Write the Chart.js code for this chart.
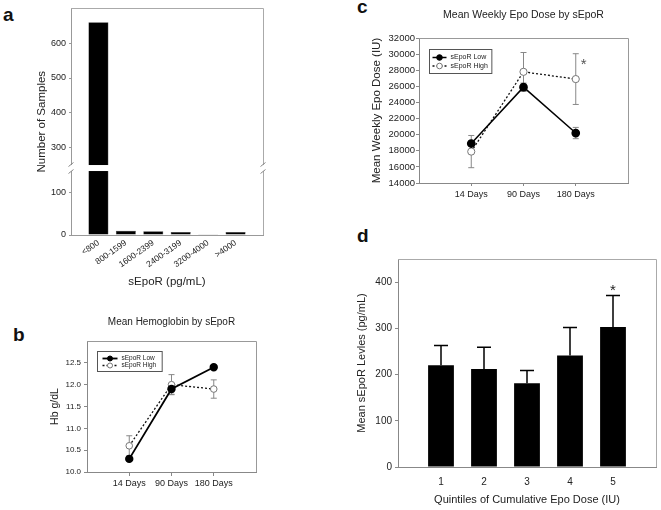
<!DOCTYPE html>
<html>
<head>
<meta charset="utf-8">
<script src="https://cdn.jsdelivr.net/npm/chart.js@4.4.0/dist/chart.umd.min.js"></script>
<style>
  body { margin: 0; background: #fff; }
  #fig { position: relative; width: 661px; height: 510px; overflow: hidden; font-family: 'Liberation Sans', Arial, sans-serif; }
  #fig canvas { position: absolute; }
  .tag { position: absolute; font-weight: bold; font-size: 19px; line-height: 19px; color: #111; }
</style>
</head>
<body>
<div id="fig">
  <div class="tag" style="left:3px;top:5px">a</div>
  <div class="tag" style="left:13px;top:325px">b</div>
  <div class="tag" style="left:357px;top:-3px">c</div>
  <div class="tag" style="left:357px;top:226px">d</div>
  <canvas id="chartA" width="275" height="295" style="left:0;top:0"></canvas>
  <canvas id="chartB" width="300" height="200" style="left:0;top:300px"></canvas>
  <canvas id="chartC" width="331" height="215" style="left:330px;top:0"></canvas>
  <canvas id="chartD" width="331" height="260" style="left:330px;top:250px"></canvas>
</div>
<script>
// panel a
const histCategories = ['<800', '800-1599', '1600-2399', '2400-3199', '3200-4000', '>4000'];
const histCounts = [660, 10, 9, 7, 2, 7];
const histTicks = [0, 100, 300, 400, 500, 600];

// panels b and c
const visitLabels = ['14 Days', '90 Days', '180 Days'];
const hbLow = [10.3, 11.9, 12.4];
const hbLowErr = [0.04, 0.12, 0.04];
const hbHigh = [10.6, 12.0, 11.9];
const hbHighErr = [0.23, 0.23, 0.21];
const hbTicks = [10.0, 10.5, 11.0, 11.5, 12.0, 12.5];

const epoLow = [18900, 25900, 20200];
const epoLowErr = [300, 500, 700];
const epoHigh = [17900, 27800, 26900];
const epoHighErr = [2000, 2400, 3150];
const epoTicks = [14000, 16000, 18000, 20000, 22000, 24000, 26000, 28000, 30000, 32000];

// panel d
const quintiles = ['1', '2', '3', '4', '5'];
const seporMeans = [220, 212, 181, 241, 303];
const seporErr = [43, 47, 28, 61, 68];
const seporTicks = [0, 100, 200, 300, 400];

const FONT = "'Liberation Sans', Arial, sans-serif";
Chart.defaults.font.family = FONT;
Chart.defaults.color = '#222';
Chart.defaults.animation = false;
Chart.defaults.responsive = false;
Chart.defaults.devicePixelRatio = 1;
Chart.defaults.plugins.legend.display = false;
Chart.defaults.plugins.tooltip.enabled = false;

const fixWidth = w => s => { s.width = w; };
const fixHeight = h => s => { s.height = h; };
const onlyTicks = vals => s => { s.ticks = vals.map(v => ({ value: v })); };
const toPoints = arr => arr.map((v, i) => ({ x: i + 1, y: v }));

// linear scale with a gap cut out of it (panel a)
class BrokenScale extends Chart.LinearScale {
  getPixelForValue(value) {
    const o = this.options.axisBreak;
    const len = this._length;
    const lowPx = (len - o.gap) * o.lowerPart;
    const highPx = len - o.gap - lowPx;
    let px;
    if (value <= o.from) px = (value - this.min) / (o.from - this.min) * lowPx;
    else if (value >= o.to) px = lowPx + o.gap + (value - o.to) / (this.max - o.to) * highPx;
    else px = lowPx + (value - o.from) / (o.to - o.from) * o.gap;
    return this.getPixelForDecimal(px / len);
  }
}
BrokenScale.id = 'broken';
Chart.register(BrokenScale);

const framePlugin = {
  id: 'frame',
  beforeDatasetsDraw(chart, args, opts) {
    const { ctx, chartArea: a } = chart;
    ctx.save();
    ctx.strokeStyle = opts.color || '#aaa';
    ctx.lineWidth = 1;
    ctx.beginPath();
    ctx.moveTo(a.left, Math.round(a.top) + 0.5);
    ctx.lineTo(Math.round(a.right) + 0.5, Math.round(a.top) + 0.5);
    ctx.lineTo(Math.round(a.right) + 0.5, a.bottom);
    ctx.stroke();
    ctx.restore();
  }
};

const breakPlugin = {
  id: 'breakMarks',
  afterDatasetsDraw(chart) {
    const { ctx, chartArea: a, scales: { y } } = chart;
    const o = y.options.axisBreak;
    const yLo = y.getPixelForValue(o.from), yHi = y.getPixelForValue(o.to);
    ctx.save();
    ctx.fillStyle = '#fff';
    ctx.fillRect(a.left - 4, yHi, a.right - a.left + 8, yLo - yHi);
    ctx.strokeStyle = '#888';
    ctx.lineWidth = 1;
    [a.left, a.right].forEach(x => {
      ctx.beginPath();
      ctx.moveTo(x - 2.5, yHi + 1.5); ctx.lineTo(x + 2.5, yHi - 2.5);
      ctx.moveTo(x - 2.5, yLo + 2.5); ctx.lineTo(x + 2.5, yLo - 1.5);
      ctx.stroke();
    });
    ctx.restore();
  }
};

function drawErrors(chart, opts) {
  const { ctx, scales: { y } } = chart;
  chart.data.datasets.forEach((ds, di) => {
    if (!ds.errors) return;
    const meta = chart.getDatasetMeta(di);
    ctx.save();
    ctx.strokeStyle = opts.color;
    ctx.lineWidth = opts.width;
    meta.data.forEach((el, i) => {
      const v = ds.data[i].y, e = ds.errors[i];
      const top = y.getPixelForValue(v + e);
      const bot = y.getPixelForValue(opts.upOnly ? v : v - e);
      ctx.beginPath();
      ctx.moveTo(el.x, top); ctx.lineTo(el.x, bot);
      ctx.moveTo(el.x - opts.cap, top); ctx.lineTo(el.x + opts.cap, top);
      if (!opts.upOnly) { ctx.moveTo(el.x - opts.cap, bot); ctx.lineTo(el.x + opts.cap, bot); }
      ctx.stroke();
    });
    ctx.restore();
  });
}
const errorBarPlugin = {
  id: 'errorBars',
  beforeDatasetsDraw(chart, args, opts) { if (opts.behind) drawErrors(chart, opts); },
  afterDatasetsDraw(chart, args, opts) { if (!opts.behind) drawErrors(chart, opts); }
};

const boxLegendPlugin = {
  id: 'boxLegend',
  afterDatasetsDraw(chart, args, o) {
    const { ctx, chartArea: a } = chart;
    const x0 = Math.round(a.left + o.dx) + 0.5, y0 = Math.round(a.top + o.dy) + 0.5;
    const sets = chart.data.datasets;
    ctx.save();
    ctx.font = o.size + 'px ' + FONT;
    const textX = x0 + o.pad + o.lineLen + o.gap;
    const w = textX - x0 + Math.max(...sets.map(d => ctx.measureText(d.label).width)) + o.pad + 1;
    ctx.fillStyle = '#fff';
    ctx.strokeStyle = '#555';
    ctx.lineWidth = 1;
    ctx.fillRect(x0, y0, w, o.height);
    ctx.strokeRect(x0, y0, w, o.height);
    sets.forEach((ds, i) => {
      const ry = y0 + o.first + i * o.row;
      const lx = x0 + o.pad;
      ctx.setLineDash(ds.borderDash || []);
      ctx.strokeStyle = ds.borderColor;
      ctx.lineWidth = ds.borderWidth;
      ctx.beginPath(); ctx.moveTo(lx, ry); ctx.lineTo(lx + o.lineLen, ry); ctx.stroke();
      ctx.setLineDash([]);
      ctx.beginPath();
      ctx.arc(lx + o.lineLen / 2, ry, o.radius, 0, Math.PI * 2);
      ctx.fillStyle = ds.pointBackgroundColor;
      ctx.fill();
      ctx.strokeStyle = ds.pointBorderColor;
      ctx.lineWidth = 1;
      ctx.stroke();
      ctx.fillStyle = '#222';
      ctx.textBaseline = 'middle';
      ctx.fillText(ds.label, textX, ry);
    });
    ctx.restore();
  }
};

// significance asterisk, placed relative to the top of an error bar
const starPlugin = {
  id: 'star',
  afterDatasetsDraw(chart, args, o) {
    const { ctx } = chart;
    const ds = chart.data.datasets[o.dataset];
    const el = chart.getDatasetMeta(o.dataset).data[o.index];
    const top = chart.scales.y.getPixelForValue(ds.data[o.index].y + ds.errors[o.index]);
    ctx.save();
    ctx.font = o.size + 'px ' + FONT;
    ctx.fillStyle = o.color;
    ctx.textAlign = 'center';
    ctx.textBaseline = 'alphabetic';
    const m = ctx.measureText('*');
    const cy = top + o.dy;
    ctx.fillText('*', el.x + o.dx, cy + (m.actualBoundingBoxAscent - m.actualBoundingBoxDescent) / 2);
    ctx.restore();
  }
};

const axisGrid = { drawOnChartArea: false, tickLength: 3, color: '#888' };
const axisBorder = { color: '#888' };

// a: histogram with broken y axis
new Chart(document.getElementById('chartA'), {
  type: 'bar',
  data: {
    datasets: [{
      data: toPoints(histCounts),
      backgroundColor: '#000',
      borderColor: '#333',
      borderWidth: 0.5,
      categoryPercentage: 1,
      barPercentage: 0.73
    }]
  },
  options: {
    layout: { padding: { left: 31, right: 12, top: 4, bottom: 0 } },
    plugins: { frame: { color: '#aaa' } },
    scales: {
      x: {
        type: 'linear', min: 0, max: histCategories.length + 1, offset: false,
        afterBuildTicks: onlyTicks(histCategories.map((_, i) => i + 1)),
        afterFit: fixHeight(60),
        grid: { drawOnChartArea: false, drawTicks: false, offset: false },
        border: { color: '#999' },
        ticks: { autoSkip: false, minRotation: 35, maxRotation: 35, padding: 3, font: { size: 8.5 }, callback: v => histCategories[v - 1] },
        title: { display: true, text: 'sEpoR (pg/mL)', font: { size: 11.5 }, padding: { top: 0, bottom: 6 } }
      },
      y: {
        type: 'broken', min: 0, max: 700,
        axisBreak: { from: 150, to: 250, gap: 6, lowerPart: 0.29 },
        afterBuildTicks: onlyTicks(histTicks),
        afterFit: fixWidth(40),
        grid: { drawOnChartArea: false, tickLength: 2, color: '#999' },
        border: { color: '#999' },
        ticks: { font: { size: 9 }, padding: 3, callback: v => String(v) },
        title: { display: true, text: 'Number of Samples', font: { size: 11.5 } }
      }
    }
  },
  plugins: [framePlugin, breakPlugin]
});

// b: mean hemoglobin
new Chart(document.getElementById('chartB'), {
  type: 'line',
  data: {
    datasets: [
      { label: 'sEpoR Low', data: toPoints(hbLow), errors: hbLowErr, borderColor: '#000', borderWidth: 1.8,
        pointRadius: 3.3, pointBackgroundColor: '#000', pointBorderColor: '#000' },
      { label: 'sEpoR High', data: toPoints(hbHigh), errors: hbHighErr, borderColor: '#111', borderWidth: 1.3, borderDash: [2, 2],
        pointRadius: 3.3, pointBackgroundColor: '#fff', pointBorderColor: '#777', pointBorderWidth: 1 }
    ]
  },
  options: {
    layout: { padding: { left: 45, right: 44, top: 0, bottom: 0 } },
    plugins: {
      title: { display: true, text: 'Mean Hemoglobin by sEpoR', fullSize: false, color: '#222',
        font: { size: 10, weight: 'normal' }, padding: { top: 16, bottom: 13 } },
      errorBars: { behind: true, color: '#888', width: 1, cap: 3 },
      boxLegend: { dx: 10, dy: 10, size: 6.5, height: 20, first: 7, row: 7, pad: 5, lineLen: 15, gap: 4, radius: 2.5 },
      frame: { color: '#999' }
    },
    scales: {
      x: {
        type: 'linear', min: 0, max: visitLabels.length + 1,
        afterBuildTicks: onlyTicks(visitLabels.map((_, i) => i + 1)),
        afterFit: fixHeight(28),
        grid: { drawOnChartArea: false, tickLength: 4, color: '#888' },
        border: axisBorder,
        ticks: { font: { size: 9 }, padding: 2, callback: v => visitLabels[v - 1] }
      },
      y: {
        min: 10, max: 13,
        afterBuildTicks: onlyTicks(hbTicks),
        afterFit: fixWidth(42),
        grid: axisGrid,
        border: axisBorder,
        ticks: { font: { size: 8 }, padding: 3, callback: v => v.toFixed(1) },
        title: { display: true, text: 'Hb g/dL', font: { size: 10.5 } }
      }
    }
  },
  plugins: [framePlugin, errorBarPlugin, boxLegendPlugin]
});

// c: mean weekly epo dose
new Chart(document.getElementById('chartC'), {
  type: 'line',
  data: {
    datasets: [
      { label: 'sEpoR Low', data: toPoints(epoLow), errors: epoLowErr, borderColor: '#000', borderWidth: 1.5,
        pointRadius: 3.6, pointBackgroundColor: '#000', pointBorderColor: '#000' },
      { label: 'sEpoR High', data: toPoints(epoHigh), errors: epoHighErr, borderColor: '#111', borderWidth: 1.3, borderDash: [2, 2],
        pointRadius: 3.6, pointBackgroundColor: '#fff', pointBorderColor: '#777', pointBorderWidth: 1 }
    ]
  },
  options: {
    layout: { padding: { left: 36, right: 33, top: 0, bottom: 0 } },
    plugins: {
      title: { display: true, text: 'Mean Weekly Epo Dose by sEpoR', fullSize: false, color: '#222',
        font: { size: 10.5, weight: 'normal' }, padding: { top: 8.7, bottom: 16.7 } },
      errorBars: { behind: true, color: '#888', width: 1, cap: 3 },
      boxLegend: { dx: 10, dy: 11, size: 7, height: 24, first: 8, row: 8.5, pad: 3, lineLen: 14, gap: 4, radius: 2.8 },
      star: { dataset: 1, index: 2, dx: 8, dy: 8.7, size: 15, color: '#555' },
      frame: { color: '#999' }
    },
    scales: {
      x: {
        type: 'linear', min: 0, max: visitLabels.length + 1,
        afterBuildTicks: onlyTicks(visitLabels.map((_, i) => i + 1)),
        afterFit: fixHeight(32),
        grid: axisGrid,
        border: axisBorder,
        ticks: { font: { size: 9 }, padding: 3, callback: v => visitLabels[v - 1] }
      },
      y: {
        min: 14000, max: 32000,
        afterBuildTicks: onlyTicks(epoTicks),
        afterFit: fixWidth(53),
        grid: axisGrid,
        border: axisBorder,
        ticks: { font: { size: 9.5 }, padding: 1, callback: v => String(v) },
        title: { display: true, text: 'Mean Weekly Epo Dose (IU)', font: { size: 11.5 } }
      }
    }
  },
  plugins: [framePlugin, errorBarPlugin, boxLegendPlugin, starPlugin]
});

// d: sEpoR by epo dose quintile
new Chart(document.getElementById('chartD'), {
  type: 'bar',
  data: {
    datasets: [{
      data: toPoints(seporMeans),
      errors: seporErr,
      backgroundColor: '#000',
      categoryPercentage: 1,
      barPercentage: 0.6
    }]
  },
  options: {
    layout: { padding: { left: 21, right: 5, top: 8, bottom: 0 } },
    plugins: {
      errorBars: { behind: false, color: '#000', width: 1.5, cap: 7, upOnly: true },
      star: { dataset: 0, index: 4, dx: 0, dy: -8, size: 15, color: '#222' },
      frame: { color: '#aaa' }
    },
    scales: {
      x: {
        type: 'linear', min: 0, max: quintiles.length + 1, offset: false,
        afterBuildTicks: onlyTicks(quintiles.map((_, i) => i + 1)),
        afterFit: fixHeight(43),
        grid: { drawOnChartArea: false, drawTicks: false, offset: false },
        border: axisBorder,
        ticks: { font: { size: 10 }, padding: 9, callback: v => quintiles[v - 1] },
        title: { display: true, text: 'Quintiles of Cumulative Epo Dose (IU)', font: { size: 11 }, padding: { top: 0, bottom: 3.4 } }
      },
      y: {
        min: 0, max: 450,
        afterBuildTicks: onlyTicks(seporTicks),
        afterFit: fixWidth(47),
        grid: axisGrid,
        border: axisBorder,
        ticks: { font: { size: 10 }, padding: 3, callback: v => String(v) },
        title: { display: true, text: 'Mean sEpoR Levles (pg/mL)', font: { size: 11 } }
      }
    }
  },
  plugins: [framePlugin, errorBarPlugin, starPlugin]
});
</script>
</body>
</html>
